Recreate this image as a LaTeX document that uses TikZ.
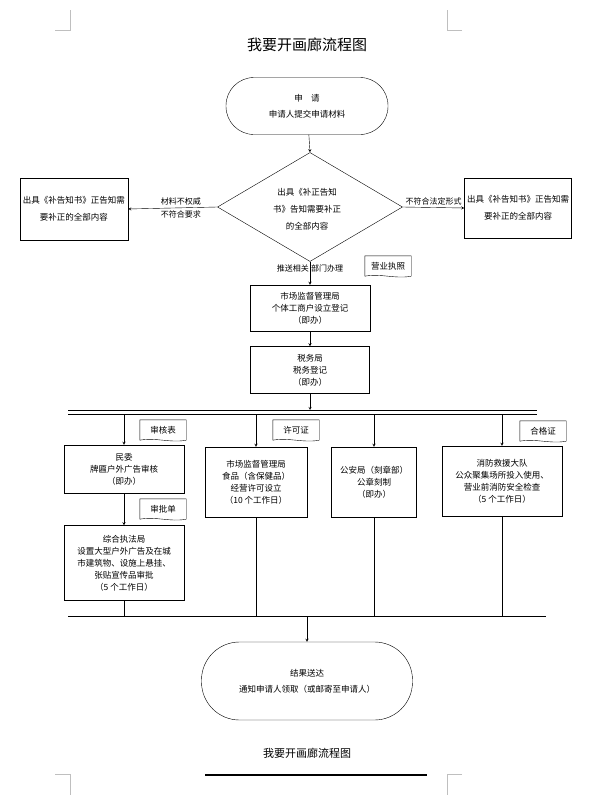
\documentclass[tikz,border=0pt]{standalone}
\usepackage{fontspec}
\setmainfont{Noto Sans CJK SC}
\usetikzlibrary{shapes.geometric,positioning}
\tikzset{
  box/.style={draw,align=center,font=\fontsize{8.5}{12}\selectfont,inner sep=1pt},
  term/.style={draw,rounded corners=28pt,align=center,font=\fontsize{8.5}{16}\selectfont},
  tag/.style={align=center,font=\fontsize{8.5}{10}\selectfont,inner sep=0pt},
  lbl/.style={font=\fontsize{8}{10}\selectfont,inner sep=3pt},
  arr/.style={->,>=stealth},
  corner/.style={draw=gray!50,line width=0.6pt}
}
\newcommand\doctag[3]{% name, centre, text
  \node[tag,minimum width=46pt,minimum height=20pt] (#1) at #2 {#3};
  \draw (#1.north west) -- (#1.north east) -- (#1.south east)
     .. controls +(-16pt,-3pt) and +(16pt,3pt) .. (#1.south west) -- cycle;
}
\begin{document}
\begin{tikzpicture}[x=1pt,y=-1pt]
   \useasboundingbox (0,0) rectangle (615,795);
   % corner marks
   \draw[corner] (55,30) -- (70,30) -- (70,10);
   \draw[corner] (462,30) -- (447,30) -- (447,10);
   \draw[corner] (55,774) -- (70,774) -- (70,795);
   \draw[corner] (462,774) -- (447,774) -- (447,795);

   \node[font=\fontsize{15}{16}\selectfont] (title) at (307,45) {我要开画廊流程图};

   \node[term,minimum width=162pt,minimum height=57pt] (apply) at (307,106) {申\quad 请\\申请人提交申请材料};
   \node[draw,diamond,aspect=1.68,minimum width=185pt,minimum height=109pt,inner sep=0pt] (check) at (310,207) {};
   \node[box,draw=none,font=\fontsize{8.5}{17}\selectfont] (checktxt) at (307,209) {出具《补正告知\\书》告知需要补正\\的全部内容};
   \node[box,minimum width=108pt,minimum height=62pt,font=\fontsize{8.5}{17}\selectfont] (left) at (74,209) {出具《补告知书》正告知需\\要补正的全部内容};
   \node[box,minimum width=107pt,minimum height=60pt,font=\fontsize{8.5}{17}\selectfont] (right) at (518,208) {出具《补告知书》正告知需\\要补正的全部内容};

   \draw[arr] (apply) -- (check.north);
   \draw[arr] (check.west) -- (left.east)
      node[lbl,midway,above,xshift=8pt] {材料不权威} node[lbl,midway,below,xshift=8pt] {不符合要求};
   \draw[arr] (check.east) -- (right.west) node[lbl,midway,above,inner sep=2pt] {不符合法定形式};

   \node[box,minimum width=120pt,minimum height=46pt] (market) at (310,308) {市场监督管理局\\个体工商户设立登记\\（即办）};
   \node[box,minimum width=119pt,minimum height=47pt] (tax) at (310,370) {税务局\\税务登记\\（即办）};
   \draw[arr] (check.south) -- (market.north)
      node[lbl,pos=0.3,left,inner sep=1pt] {推送相关} node[lbl,pos=0.3,right,inner sep=1pt] {部门办理};
   \doctag{licence}{(388,266)}{营业执照}
   \draw[arr] (market) -- (tax);

   % upper bus
   \coordinate (busA) at (68,410);
   \coordinate (busB) at (537,410);
   \draw (busA) -- (busB);
   \draw ([yshift=-4pt]busA) -- ([yshift=-4pt]busB);
   \draw[arr] (tax.south) -- (tax.south |- busA);

   \node[box,minimum width=120pt,minimum height=48pt] (civil) at (124,469) {民委\\牌匾户外广告审核\\（即办）};
   \node[box,minimum width=102pt,minimum height=70pt] (food) at (256,482) {市场监督管理局\\食品（含保健品）\\经营许可设立\\（10 个工作日）};
   \node[box,minimum width=85pt,minimum height=70pt] (police) at (374,482) {公安局（刻章部）\\公章刻制\\（即办）};
   \node[box,minimum width=120pt,minimum height=70pt] (fire) at (502,481) {消防救援大队\\公众聚集场所投入使用、\\营业前消防安全检查\\（5 个工作日）};
   \node[box,minimum width=120pt,minimum height=75pt] (urban) at (124,563) {综合执法局\\设置大型户外广告及在城\\市建筑物、设施上悬挂、\\张贴宣传品审批\\（5 个工作日）};

   \foreach \n in {civil,food,police,fire}
      \draw[arr] (\n.north |- busA) ++(0,4) -- (\n.north);
   \draw[arr] (civil) -- (urban);
   \doctag{review}{(163,430)}{审核表}
   \doctag{permit}{(296,430)}{许可证}
   \doctag{cert}{(543,431)}{合格证}
   \doctag{approve}{(163,509)}{审批单}

   % lower bus
   \coordinate (busC) at (68,616);
   \coordinate (busD) at (546,616);
   \draw (busC) -- (busD);
   \foreach \n in {urban,food,police,fire}
      \draw (\n.south) -- (\n.south |- busC);

   \node[term,rounded corners=38pt,minimum width=211pt,minimum height=78pt] (result) at (307,681) {结果送达\\通知申请人领取（或邮寄至申请人）};
   \draw[arr] (result.north |- busC) -- (result.north);

   \node[font=\fontsize{11}{12}\selectfont] (foot) at (307,753) {我要开画廊流程图};
   \draw[line width=1.5pt] (205,775) -- (427,775);
\end{tikzpicture}
\end{document}
